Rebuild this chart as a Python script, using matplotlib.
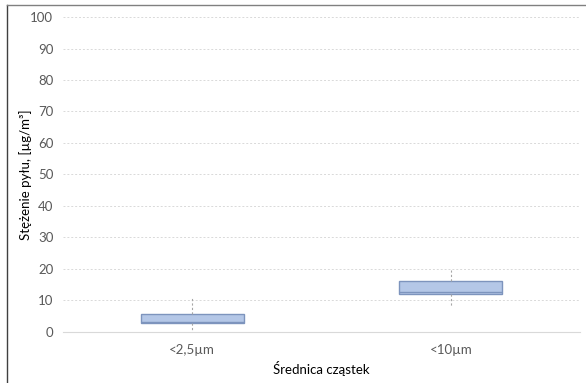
import matplotlib.pyplot as plt
from matplotlib.lines import Line2D

categories = ['<2,5µm', '<10µm']
q1 = [3.0, 12.0]
medians = [3.2, 12.8]
q3 = [5.8, 16.3]
whisker_low = [0.5, 8.2]
whisker_high = [11.0, 19.8]

plt.rcParams['font.family'] = ['Lato', 'DejaVu Sans']

stats = []
for i, name in enumerate(categories):
    stats.append({'label': name, 'q1': q1[i], 'med': medians[i], 'q3': q3[i],
                  'whislo': whisker_low[i], 'whishi': whisker_high[i], 'fliers': []})

fig = plt.figure(figsize=(5.86, 3.83), dpi=100)
ax = fig.add_axes([0.1075, 0.1332, 0.8823, 0.8224])

ax.bxp(stats, positions=[1, 2], widths=0.4, patch_artist=True, showcaps=False,
       boxprops=dict(facecolor='#b4c7e7', edgecolor='#7d94bd', linewidth=1.0),
       medianprops=dict(color='#7d94bd', linewidth=1.0),
       whiskerprops=dict(color='#a6a6a6', linestyle=(0, (2, 2)), linewidth=0.8))

ax.set_xlim(0.5, 2.5)
ax.set_ylim(0, 100)
ax.set_yticks(range(0, 101, 10))
ax.set_xticks([1, 2])
ax.set_xticklabels(categories)
ax.tick_params(length=0, labelsize=9.5, colors='#595959', pad=9)
ax.tick_params(axis='y', pad=7)
ax.set_axisbelow(True)
ax.grid(axis='y', color='#d9d9d9', linestyle=(0, (2, 2)), linewidth=0.7)
for side in ['top', 'right', 'left']:
    ax.spines[side].set_visible(False)
ax.spines['bottom'].set_color('#d9d9d9')

ax.set_xlabel('Średnica cząstek', fontsize=9.5, color='black', labelpad=3)
ax.set_ylabel('Stężenie pyłu, [µg/m³]', fontsize=9.5, color='black')
ax.yaxis.set_label_coords(-0.06, 0.5)

# outer frame lines
fig.add_artist(Line2D([7 / 586, 7 / 586], [0, 1 - 5 / 383], color='#404040', linewidth=1.0))
fig.add_artist(Line2D([7 / 586, 1], [1 - 5 / 383, 1 - 5 / 383], color='#808080', linewidth=1.0))

fig.savefig('out.png', dpi=100)
